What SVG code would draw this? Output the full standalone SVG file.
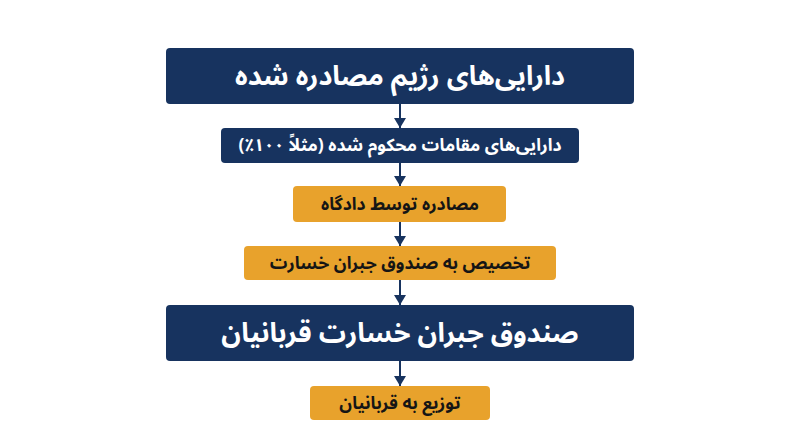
<svg xmlns="http://www.w3.org/2000/svg" width="800" height="447" viewBox="0 0 800 447">
<defs>
<style>
.navy{fill:#17335f}
.orange{fill:#e8a22c}
.t{font-family:"Noto Sans Arabic","DejaVu Sans","Noto Sans",sans-serif;font-weight:bold;text-anchor:middle;dominant-baseline:central}
.w{fill:#ffffff}
.k{fill:#151515}
.c{stroke:#17335f;stroke-width:2;fill:none}
</style>
<marker id="ah" markerWidth="10" markerHeight="12" refX="10" refY="6" orient="auto" markerUnits="userSpaceOnUse" viewBox="0 0 10 12">
<path d="M0,0 L10,6 L0,12 Z" fill="#17335f"/>
</marker>
</defs>
<rect width="800" height="447" fill="#ffffff"/>
<g id="connectors">
<line class="c" x1="400" y1="104" x2="400" y2="128" marker-end="url(#ah)"/>
<line class="c" x1="400" y1="163" x2="400" y2="186" marker-end="url(#ah)"/>
<line class="c" x1="400" y1="222" x2="400" y2="246" marker-end="url(#ah)"/>
<line class="c" x1="400" y1="280" x2="400" y2="305" marker-end="url(#ah)"/>
<line class="c" x1="400" y1="361" x2="400" y2="386" marker-end="url(#ah)"/>
</g>
<g id="n1">
<rect class="navy" x="166" y="48" width="468" height="56" rx="4"/>
<text class="t w" x="400" y="76" font-size="27" direction="rtl">دارایی‌های رژیم مصادره شده</text>
</g>
<g id="n2">
<rect class="navy" x="221" y="128" width="358" height="35" rx="4"/>
<text class="t w" x="400" y="145.5" font-size="17.5" direction="rtl">دارایی‌های مقامات محکوم شده (مثلاً ۱۰۰٪)</text>
</g>
<g id="n3">
<rect class="orange" x="293" y="186" width="213" height="36" rx="4"/>
<text class="t k" x="400" y="204" font-size="17.5" direction="rtl">مصادره توسط دادگاه</text>
</g>
<g id="n4">
<rect class="orange" x="244" y="246" width="312" height="34" rx="4"/>
<text class="t k" x="400" y="263" font-size="17.5" direction="rtl">تخصیص به صندوق جبران خسارت</text>
</g>
<g id="n5">
<rect class="navy" x="166" y="305" width="468" height="56" rx="4"/>
<text class="t w" x="400" y="333" font-size="27" direction="rtl">صندوق جبران خسارت قربانیان</text>
</g>
<g id="n6">
<rect class="orange" x="310" y="386" width="180" height="34" rx="4"/>
<text class="t k" x="400" y="403" font-size="17.5" direction="rtl">توزیع به قربانیان</text>
</g>
</svg>
